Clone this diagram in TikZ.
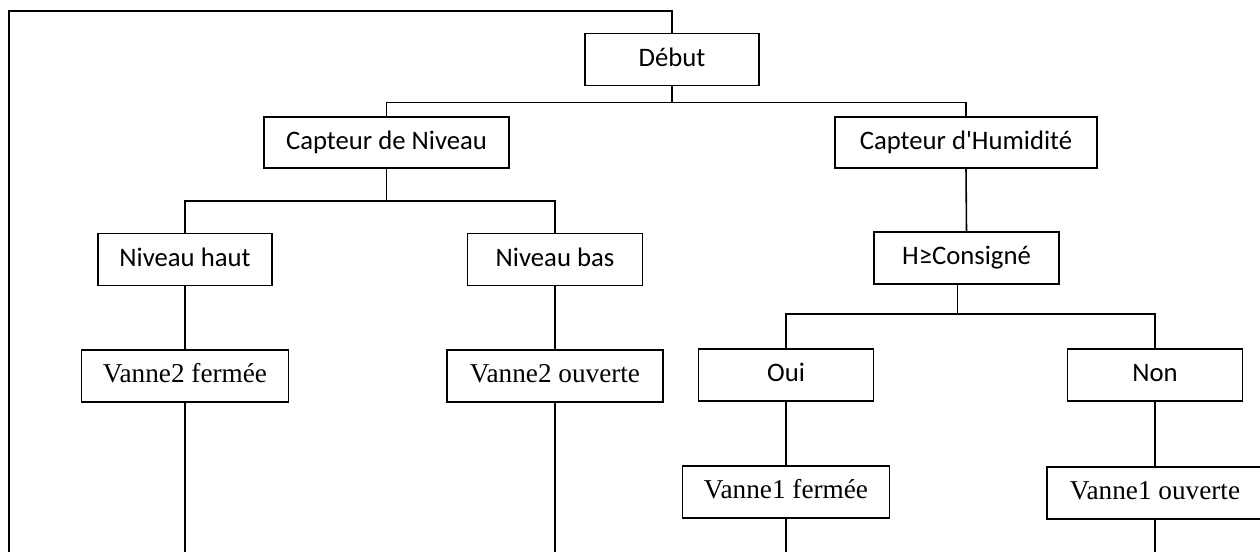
\documentclass[tikz,border=0pt]{standalone}
\usepackage{fontspec}
\setmainfont{Carlito}
\newfontfamily\vannefont{Liberation Serif}
\begin{document}
\begin{tikzpicture}[x=0.02cm, y=-0.02cm, line width=0.9pt,
    font=\fontsize{15.2}{18}\selectfont,
    box/.style={draw, inner sep=0pt, minimum height=1.04cm, text height=0.76em, text depth=0pt},
    vbox/.style={box, font=\vannefont\fontsize{15.5}{18}\selectfont}]
    \useasboundingbox (0,0) rectangle (1260,552);

    % Start and sensors
    \node[box, minimum width=3.48cm] (debut) at (672,59.5) {Début};
    \node[box, minimum width=4.9cm, minimum height=1.02cm] (cniv) at (386.5,142.5) {Capteur de Niveau};
    \node[box, minimum width=5.24cm, minimum height=1.02cm] (chum) at (966,142.5) {Capteur d\textquotesingle Humidité};

    % Level branch
    \node[box, minimum width=3.48cm] (nhaut) at (185,259.5) {Niveau haut};
    \node[box, minimum width=3.5cm] (nbas) at (555,259.5) {Niveau bas};
    \node[vbox, minimum width=4.14cm] (v2f) at (185,376) {Vanne2 fermée};
    \node[vbox, minimum width=4.32cm] (v2o) at (555,376) {Vanne2 ouverte};

    % Humidity branch
    \node[box, minimum width=3.7cm] (hcons) at (966.5,258) {H≥Consigné};
    \node[box, minimum width=3.5cm] (oui) at (786,375) {Oui};
    \node[box, minimum width=3.5cm] (non) at (1155,375) {Non};
    \node[vbox, minimum width=4.14cm] (v1f) at (786,492) {Vanne1 fermée};
    \node[vbox, minimum width=4.32cm] (v1o) at (1155,493) {Vanne1 ouverte};

    % Loose ends at the bottom
    \coordinate (lbot) at (9,552);
    \coordinate (b1) at (185,552);
    \coordinate (b2) at (555,552);
    \coordinate (b3) at (786,552);
    \coordinate (b4) at (1155,552);

    % Connectors
    \draw (debut.north) -- ++(0,-22) -| (lbot);
    \draw (debut.south) -- ++(0,16) -| (cniv.north);
    \draw (debut.south) -- ++(0,16) -| (chum.north);
    \draw (cniv.south) -- ++(0,32) -| (nhaut.north);
    \draw (cniv.south) -- ++(0,32) -| (nbas.north);
    \draw (nhaut.south) -- (v2f.north);
    \draw (nbas.south) -- (v2o.north);
    \draw (chum.south) -- (hcons.north);
    \draw ([xshift=-0.18cm]hcons.south) -- ++(0,29) -| (oui.north);
    \draw ([xshift=-0.18cm]hcons.south) -- ++(0,29) -| (non.north);
    \draw (oui.south) -- (v1f.north);
    \draw (non.south) -- (v1o.north);
    \draw (v2f.south) -- (b1);
    \draw (v2o.south) -- (b2);
    \draw (v1f.south) -- (b3);
    \draw (v1o.south) -- (b4);
\end{tikzpicture}
\end{document}
